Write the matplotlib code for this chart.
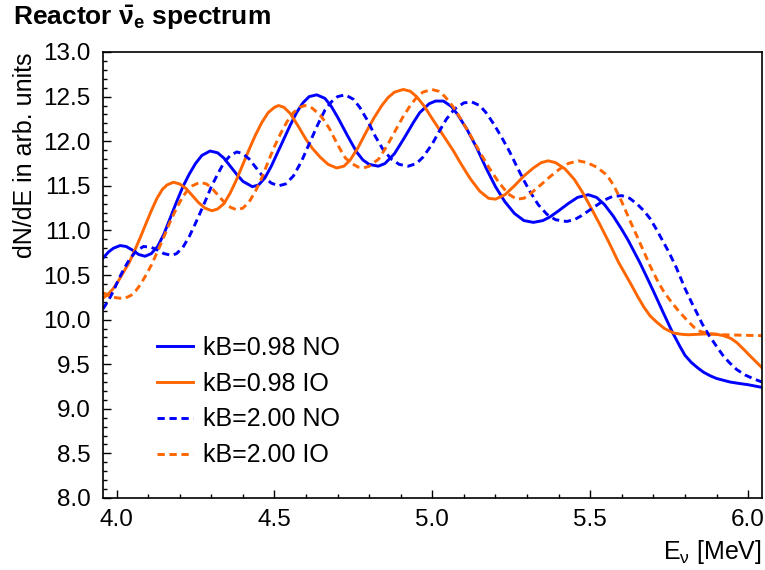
import matplotlib
matplotlib.use("Agg")
import matplotlib.pyplot as plt
from matplotlib.ticker import MultipleLocator

plt.rcParams['font.family'] = ['Liberation Sans', 'DejaVu Sans']
plt.rcParams['mathtext.fontset'] = 'custom'
plt.rcParams['mathtext.rm'] = 'Liberation Sans'
plt.rcParams['mathtext.it'] = 'Liberation Sans:italic'
plt.rcParams['mathtext.bf'] = 'Liberation Sans:bold'
plt.rcParams['mathtext.default'] = 'regular'

# kB=0.98, normal ordering
e_no98 = [3.957, 3.975, 3.99, 4.011, 4.03, 4.05, 4.07, 4.09, 4.11, 4.13, 4.15, 4.17,
          4.19, 4.21, 4.23, 4.25, 4.27, 4.296, 4.32, 4.34, 4.36, 4.38, 4.40, 4.43,
          4.45, 4.47, 4.49, 4.52, 4.55, 4.57, 4.59, 4.61, 4.634, 4.66, 4.68, 4.70,
          4.73, 4.76, 4.78, 4.80, 4.829, 4.85, 4.88, 4.91, 4.94, 4.96, 4.99, 5.01,
          5.035, 5.06, 5.08, 5.11, 5.14, 5.17, 5.20, 5.23, 5.26, 5.29, 5.32, 5.35,
          5.372, 5.40, 5.43, 5.46, 5.494, 5.52, 5.545, 5.573, 5.60, 5.62, 5.657, 5.68,
          5.70, 5.731, 5.76, 5.784, 5.80, 5.82, 5.84, 5.859, 5.88, 5.90, 5.943, 5.97,
          6.00, 6.044]
s_no98 = [10.69, 10.76, 10.80, 10.83, 10.82, 10.78, 10.73, 10.71, 10.74, 10.82, 10.96, 11.14,
          11.32, 11.49, 11.63, 11.75, 11.84, 11.89, 11.87, 11.81, 11.72, 11.63, 11.55, 11.49,
          11.51, 11.59, 11.72, 11.95, 12.18, 12.32, 12.43, 12.50, 12.52, 12.48, 12.39, 12.27,
          12.07, 11.88, 11.79, 11.74, 11.72, 11.75, 11.86, 12.03, 12.21, 12.32, 12.42, 12.45,
          12.45, 12.39, 12.30, 12.13, 11.93, 11.70, 11.49, 11.32, 11.19, 11.11, 11.09, 11.11,
          11.15, 11.22, 11.30, 11.37, 11.40, 11.37, 11.29, 11.16, 11.01, 10.89, 10.64, 10.47,
          10.32, 10.08, 9.86, 9.70, 9.60, 9.52, 9.46, 9.41, 9.37, 9.34, 9.30, 9.285,
          9.27, 9.24]

# kB=0.98, inverted ordering
e_io98 = [3.957, 3.975, 3.99, 4.005, 4.02, 4.04, 4.058, 4.075, 4.09, 4.11, 4.128, 4.145,
          4.16, 4.18, 4.20, 4.22, 4.24, 4.26, 4.28, 4.302, 4.32, 4.34, 4.36, 4.38,
          4.40, 4.42, 4.44, 4.46, 4.48, 4.50, 4.513, 4.53, 4.55, 4.575, 4.60, 4.62,
          4.645, 4.67, 4.697, 4.72, 4.74, 4.765, 4.79, 4.815, 4.84, 4.86, 4.88, 4.908,
          4.93, 4.95, 4.975, 5.00, 5.03, 5.067, 5.09, 5.12, 5.15, 5.178, 5.20, 5.23,
          5.26, 5.29, 5.32, 5.345, 5.367, 5.39, 5.42, 5.45, 5.475, 5.50, 5.53, 5.56,
          5.59, 5.627, 5.65, 5.67, 5.69, 5.711, 5.735, 5.764, 5.79, 5.81, 5.84, 5.87,
          5.90, 5.922, 5.945, 5.965, 5.985, 6.01, 6.03, 6.044]
s_io98 = [10.24, 10.29, 10.35, 10.43, 10.52, 10.64, 10.78, 10.92, 11.05, 11.22, 11.36, 11.46,
          11.51, 11.54, 11.52, 11.47, 11.39, 11.31, 11.25, 11.22, 11.24, 11.30, 11.42, 11.57,
          11.74, 11.91, 12.07, 12.21, 12.32, 12.38, 12.40, 12.38, 12.31, 12.17, 12.02, 11.92,
          11.82, 11.74, 11.70, 11.72, 11.79, 11.93, 12.10, 12.26, 12.40, 12.49, 12.55, 12.58,
          12.56, 12.50, 12.39, 12.25, 12.09, 11.89, 11.75, 11.58, 11.44, 11.36, 11.35, 11.40,
          11.50, 11.61, 11.70, 11.76, 11.78, 11.76, 11.69, 11.57, 11.43, 11.27, 11.07, 10.86,
          10.64, 10.41, 10.26, 10.14, 10.04, 9.97, 9.90, 9.85, 9.835, 9.83, 9.835, 9.84,
          9.835, 9.82, 9.79, 9.74, 9.67, 9.58, 9.51, 9.46]

# kB=2.00, normal ordering
e_no200 = [3.957, 3.975, 3.99, 4.005, 4.022, 4.04, 4.06, 4.085, 4.11, 4.13, 4.15, 4.175,
           4.19, 4.21, 4.23, 4.25, 4.27, 4.286, 4.30, 4.32, 4.34, 4.36, 4.381, 4.40,
           4.42, 4.44, 4.46, 4.49, 4.513, 4.535, 4.56, 4.585, 4.61, 4.635, 4.66, 4.68,
           4.70, 4.724, 4.75, 4.77, 4.795, 4.82, 4.845, 4.87, 4.895, 4.924, 4.95, 4.97,
           5.00, 5.02, 5.045, 5.07, 5.10, 5.125, 5.15, 5.17, 5.195, 5.22, 5.245, 5.267,
           5.29, 5.31, 5.335, 5.363, 5.39, 5.425, 5.45, 5.47, 5.495, 5.52, 5.545, 5.57,
           5.60, 5.625, 5.65, 5.67, 5.69, 5.71, 5.73, 5.75, 5.773, 5.80, 5.82, 5.837,
           5.855, 5.875, 5.90, 5.92, 5.94, 5.964, 5.99, 6.015, 6.044]
s_no200 = [10.12, 10.22, 10.32, 10.44, 10.56, 10.67, 10.76, 10.82, 10.81, 10.78, 10.74, 10.72,
           10.74, 10.81, 10.93, 11.08, 11.24, 11.37, 11.49, 11.63, 11.76, 11.84, 11.88, 11.86,
           11.80, 11.71, 11.62, 11.53, 11.50, 11.52, 11.61, 11.77, 11.97, 12.17, 12.35, 12.44,
           12.50, 12.52, 12.47, 12.38, 12.23, 12.05, 11.90, 11.80, 11.74, 11.72, 11.75, 11.82,
           11.97, 12.10, 12.25, 12.36, 12.43, 12.44, 12.40, 12.32, 12.19, 12.04, 11.88, 11.72,
           11.56, 11.43, 11.29, 11.18, 11.12, 11.10, 11.12, 11.16, 11.22, 11.28, 11.34, 11.38,
           11.39, 11.36, 11.29, 11.22, 11.13, 11.01, 10.88, 10.75, 10.58, 10.35, 10.20, 10.08,
           9.95, 9.83, 9.70, 9.60, 9.52, 9.44, 9.38, 9.34, 9.30]

# kB=2.00, inverted ordering
e_io200 = [3.957, 3.975, 3.99, 4.01, 4.027, 4.045, 4.06, 4.075, 4.09, 4.11, 4.128, 4.15,
           4.17, 4.19, 4.21, 4.225, 4.24, 4.264, 4.285, 4.30, 4.32, 4.34, 4.36, 4.381,
           4.40, 4.42, 4.44, 4.46, 4.48, 4.50, 4.52, 4.54, 4.56, 4.58, 4.597, 4.62,
           4.645, 4.66, 4.676, 4.69, 4.708, 4.725, 4.745, 4.765, 4.782, 4.80, 4.83, 4.855,
           4.88, 4.905, 4.93, 4.95, 4.97, 4.998, 5.02, 5.04, 5.065, 5.09, 5.12, 5.15,
           5.18, 5.21, 5.24, 5.267, 5.29, 5.31, 5.34, 5.372, 5.40, 5.43, 5.462, 5.49,
           5.52, 5.553, 5.575, 5.60, 5.627, 5.65, 5.67, 5.69, 5.711, 5.73, 5.75, 5.77,
           5.784, 5.81, 5.83, 5.847, 5.865, 5.88, 5.922, 5.98, 6.044]
s_io200 = [10.30, 10.27, 10.25, 10.24, 10.24, 10.27, 10.32, 10.39, 10.48, 10.61, 10.75, 10.93,
           11.10, 11.25, 11.38, 11.45, 11.50, 11.54, 11.52, 11.48, 11.40, 11.32, 11.26, 11.23,
           11.25, 11.32, 11.44, 11.59, 11.77, 11.94, 12.09, 12.22, 12.32, 12.38, 12.40, 12.37,
           12.29, 12.22, 12.13, 12.03, 11.91, 11.81, 11.75, 11.71, 11.70, 11.72, 11.80, 11.94,
           12.10, 12.26, 12.40, 12.49, 12.55, 12.58, 12.56, 12.50, 12.39, 12.25, 12.07, 11.88,
           11.70, 11.54, 11.41, 11.35, 11.36, 11.41, 11.50, 11.60, 11.68, 11.75, 11.78, 11.76,
           11.71, 11.62, 11.50, 11.32, 11.10, 10.92, 10.76, 10.60, 10.45, 10.33, 10.23, 10.14,
           10.08, 9.98, 9.91, 9.87, 9.85, 9.84, 9.83, 9.825, 9.82]

labels = ["kB=0.98 NO", "kB=0.98 IO", "kB=2.00 NO", "kB=2.00 IO"]
blue = "#0000ff"
orange = "#ff6600"

fig = plt.figure(figsize=(7.65, 5.7), dpi=100)
ax = fig.add_axes([103 / 765, 72 / 570, 659 / 765, 446 / 570])

dash = (0, (2.5, 1.6))
ax.plot(e_no98, s_no98, color=blue, lw=2.1, label=labels[0])
ax.plot(e_io98, s_io98, color=orange, lw=2.1, label=labels[1])
ax.plot(e_no200, s_no200, color=blue, lw=2.1, ls=dash, label=labels[2])
ax.plot(e_io200, s_io200, color=orange, lw=2.1, ls=dash, label=labels[3])

ax.set_xlim(3.957, 6.044)
ax.set_ylim(8.0, 13.0)
ax.xaxis.set_major_locator(MultipleLocator(0.5))
ax.xaxis.set_minor_locator(MultipleLocator(0.1))
ax.yaxis.set_major_locator(MultipleLocator(0.5))
ax.yaxis.set_minor_locator(MultipleLocator(0.1))
ax.xaxis.set_major_formatter(lambda v, p: f"{v:.1f}")
ax.yaxis.set_major_formatter(lambda v, p: f"{v:.1f}")
ax.tick_params(which='both', direction='in', top=False, right=False, labelsize=17.5)
ax.tick_params(axis='y', pad=9)
ax.tick_params(axis='x', pad=8)
ax.tick_params(which='major', length=6, width=1)
ax.tick_params(which='minor', length=3, width=1)
for sp in ax.spines.values():
    sp.set_linewidth(1.2)

ax.set_xlabel(r"E$_\nu$ [MeV]", fontsize=18, loc='right', labelpad=5)
ax.set_ylabel("dN/dE in arb. units", fontsize=18, loc='top')
ax.yaxis.set_label_coords(-0.1, 1.0)

ax.legend(loc='upper left', bbox_to_anchor=(157 / 765, 1 - 336 / 570),
          bbox_transform=fig.transFigure, frameon=False, fontsize=18,
          handlelength=1.45, handletextpad=0.38, labelspacing=0.47,
          borderpad=0, borderaxespad=0)

fig.text(13 / 765, 1 - 25 / 570, r"Reactor $\bar{\nu}_{\mathbf{e}}$ spectrum",
         fontsize=19, fontweight='bold', va='baseline', ha='left')

fig.savefig("out.png", dpi=100)
